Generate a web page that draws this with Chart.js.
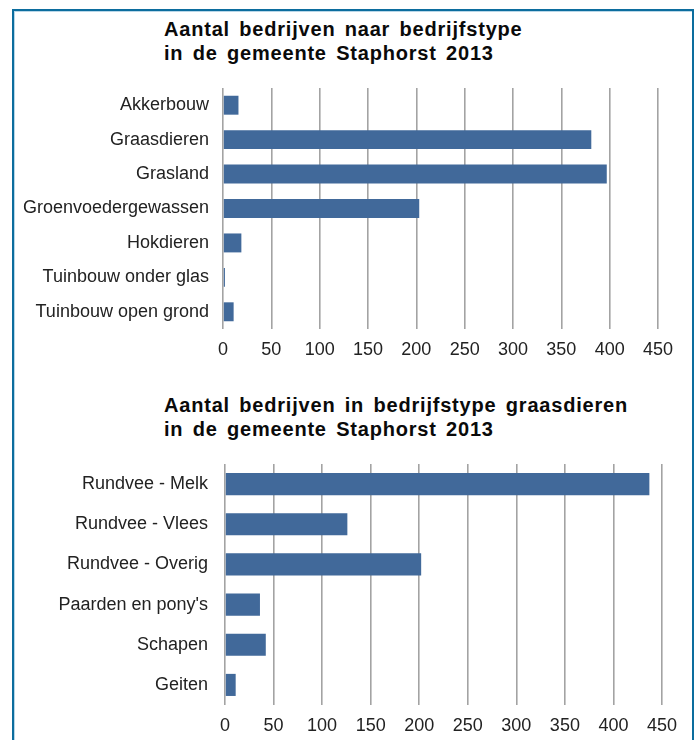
<!DOCTYPE html>
<html>
<head>
<meta charset="utf-8">
<script src="https://cdn.jsdelivr.net/npm/chart.js@4"></script>
<style>
  body { margin: 0; background: #fff; width: 697px; height: 740px; overflow: hidden; position: relative; }
  .frame {
    position: absolute; left: 12px; top: 9px; width: 678px; height: 800px;
    border: 2px solid #0c6d9e; box-shadow: inset 1px 1px 0 #b9d7e8;
  }
  .title {
    position: absolute; left: 164px;
    font-family: "Liberation Sans", Arial, sans-serif; font-weight: bold;
    font-size: 20px; line-height: 24px; color: #0a0a0a;
    letter-spacing: 0.8px; word-spacing: 3px; white-space: pre;
  }
  canvas { position: absolute; left: 0; }
</style>
</head>
<body>
<div class="frame"></div>
<div class="title" style="top: 17px;">Aantal bedrijven naar bedrijfstype
in de gemeente Staphorst 2013</div>
<div class="title" style="top: 393px;">Aantal bedrijven in bedrijfstype graasdieren
in de gemeente Staphorst 2013</div>
<div style="position:absolute; left:0; top:70px; width:697px; height:300px;"><canvas id="chartTypes"></canvas></div>
<div style="position:absolute; left:0; top:440px; width:697px; height:300px;"><canvas id="chartGraas"></canvas></div>
<script>
// Data
const typeLabels = ["Akkerbouw", "Graasdieren", "Grasland", "Groenvoedergewassen", "Hokdieren", "Tuinbouw onder glas", "Tuinbouw open grond"];
const typeValues = [16, 381, 397, 203, 19, 2, 11];
const graasLabels = ["Rundvee - Melk", "Rundvee - Vlees", "Rundvee - Overig", "Paarden en pony's", "Schapen", "Geiten"];
const graasValues = [437, 126, 202, 36, 42, 11];
const tickValues = [0, 50, 100, 150, 200, 250, 300, 350, 400, 450];

const barColor = "#41699a";
const gridColor = "#a3a3a3";
const textColor = "#222";
const font = { family: "'Liberation Sans', Arial, sans-serif", size: 18 };

function makeChart(id, labels, values, opts) {
  return new Chart(document.getElementById(id), {
    type: "bar",
    data: {
      labels: labels,
      datasets: [{
        data: values,
        backgroundColor: barColor,
        barPercentage: 0.55,
        categoryPercentage: 1,
      }],
    },
    options: {
      indexAxis: "y",
      responsive: true,
      maintainAspectRatio: false,
      animation: false,
      layout: { padding: { left: 0, right: opts.padRight, top: opts.padTop, bottom: 0 } },
      plugins: { legend: { display: false }, tooltip: { enabled: false } },
      scales: {
        x: {
          min: 0,
          max: 450,
          afterBuildTicks: (scale) => { scale.ticks = tickValues.map((v) => ({ value: v })); },
          afterFit: (scale) => {
            scale.height = opts.xHeight;
            scale.paddingLeft = 0;
            scale.paddingRight = 0;
          },
          grid: { color: gridColor, lineWidth: 1.6, drawTicks: false },
          border: { display: false },
          ticks: { color: textColor, font: font, padding: 10 },
        },
        y: {
          afterFit: (scale) => {
            scale.width = opts.yWidth;
            scale.paddingTop = 0;
            scale.paddingBottom = 0;
          },
          grid: { display: false, drawTicks: false },
          border: { display: false },
          ticks: { color: textColor, font: font, padding: opts.yPad },
        },
      },
    },
  });
}

makeChart("chartTypes", typeLabels, typeValues, { padRight: 39, padTop: 18, xHeight: 41, yWidth: 223, yPad: 14 });
makeChart("chartGraas", graasLabels, graasValues, { padRight: 35, padTop: 24, xHeight: 35, yWidth: 225, yPad: 17 });
</script>
</body>
</html>
